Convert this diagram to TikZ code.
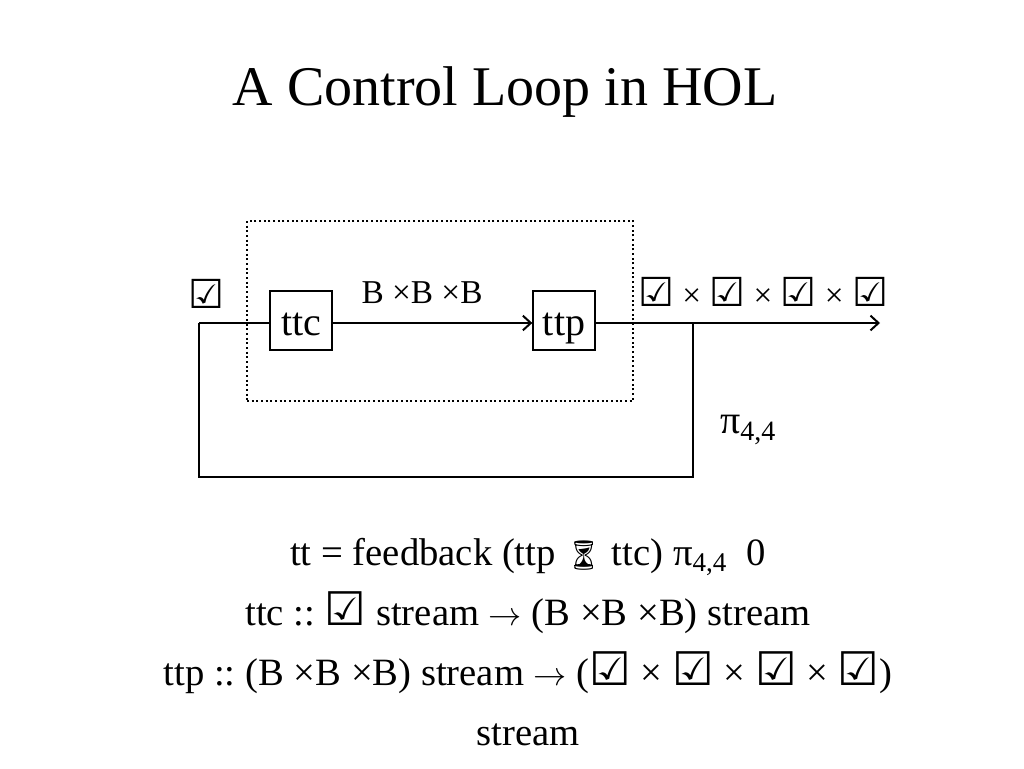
\documentclass[tikz,border=0pt]{standalone}
\usepackage{fontspec}
\setmainfont{Liberation Serif}
\newfontfamily\symfont[Scale=1.2]{DejaVu Sans}
\newfontfamily\emojifont[Scale=0.75]{Noto Emoji}
\usetikzlibrary{positioning,calc}
\usetikzlibrary{arrows.meta}
\newcommand{\chk}{{\symfont\bfseries ☑}}
\newcommand{\hglass}{{\emojifont ⏳}}
\newcommand{\tto}{\ensuremath{\rightarrow}}
\tikzstyle{wire} = [line width=1.5pt]
\tikzstyle{flow} = [line width=1.5pt,-{Straight Barb[length=6pt,width=11pt]}]
\frenchspacing

\begin{document}
\begin{tikzpicture}[x=0.75pt,y=-0.75pt,
	block/.style={draw, line width=1.5pt, minimum width=46pt, minimum height=44pt, inner sep=0pt, text height=24pt, text depth=1.5pt, font=\fontsize{30}{34}\selectfont},
	lbl/.style={inner sep=0pt, font=\fontsize{25}{30}\selectfont},
	eqn/.style={inner sep=0pt, anchor=base, font=\fontsize{29}{34}\selectfont}]
		\useasboundingbox (0,0) rectangle (1024,768);
		
		% TITLE
		
		\node [anchor=base, font=\fontsize{42}{48}\selectfont] (title) at (505,105) {A Control Loop in HOL};
		
		% BLOCKS
		
		\node [draw, dotted, line width=1.5pt, minimum width=289.5pt, minimum height=135pt] (tt) at (440,311) {};
		\node [block] (ttc) at (301,320.5) {ttc};
		\node [block] (ttp) at (564,320.5) {ttp};
		
		% WIRES
		
		\coordinate (in) at (199,323);
		\coordinate (out) at (880,323);
		\coordinate (tap) at (693,323);
		\coordinate (br) at (693,477);
		\coordinate (bl) at (199,477);
		
		\draw [wire] (in) -- (in -| ttc.west);
		\draw [flow] (ttc.east |- in) -- (ttp.west |- in);
		\draw [flow] (ttp.east |- in) -- (out);
		\draw [wire] (tap) -- (br) -- (bl) -- (in);
		
		% LABELS
		
		\node [lbl] (inlbl) at (206,294) {\chk};
		\node [lbl] (midlbl) at (422,293) {B ×B ×B};
		\node [lbl] (outlbl) at (763,292) {\chk{} × \chk{} × \chk{} × \chk};
		\node [lbl, font=\fontsize{30}{34}\selectfont] (proj) at (748,430) {π\textsubscript{4,4}};
		
		% TYPES
		
		\node [eqn] (eqtt) at (528,565) {tt = feedback (ttp \hglass{} ttc) π\textsubscript{4,4}\ \ 0};
		\node [eqn] (eqttc) at (528,625) {ttc :: \chk{} stream \tto{} (B ×B ×B) stream};
		\node [eqn] (eqttp) at (528,685) {ttp :: (B ×B ×B) stream \tto{} (\chk{} × \chk{} × \chk{} × \chk)};
		\node [eqn] (eqstream) at (528,745) {stream};
		
\end{tikzpicture}
\end{document}
